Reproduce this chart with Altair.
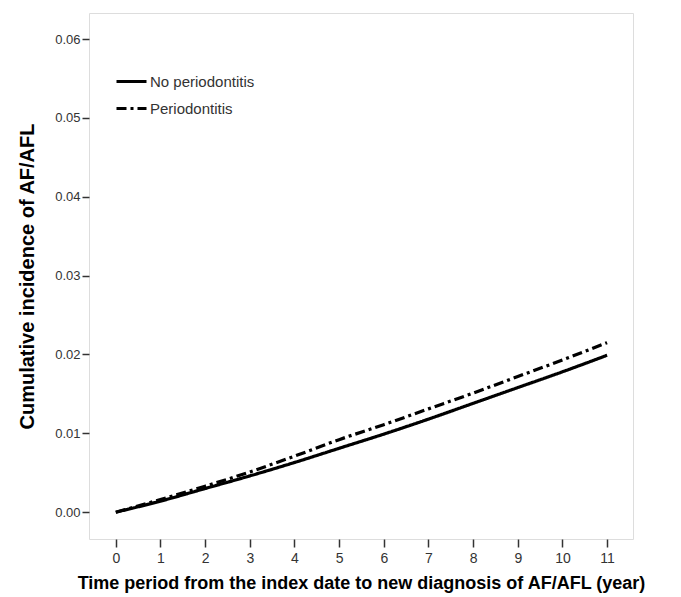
import altair as alt
import pandas as pd

years = [0, 1, 2, 3, 4, 5, 6, 7, 8, 9, 10, 11]
no_perio = [0.0, 0.0014, 0.0030, 0.0046, 0.0063, 0.0081, 0.0099, 0.0118, 0.0138, 0.0158, 0.0178, 0.0199]
perio = [0.0, 0.0016, 0.0033, 0.0051, 0.0071, 0.0092, 0.0111, 0.0131, 0.0151, 0.0172, 0.0193, 0.0215]
groups = ["No periodontitis", "Periodontitis"]
x_ticks = list(range(0, 12))
y_ticks = [0.0, 0.01, 0.02, 0.03, 0.04, 0.05, 0.06]

rows = []
for g, vals in zip(groups, [no_perio, perio]):
    for t, v in zip(years, vals):
        rows.append({"year": t, "inc": v, "group": g})
df = pd.DataFrame(rows)

font = "Liberation Sans"

chart = alt.Chart(df).mark_line(color="black", strokeWidth=3.2, interpolate="monotone").encode(
    x=alt.X("year:Q",
            scale=alt.Scale(domain=[-0.6, 11.58], nice=False, zero=False),
            axis=alt.Axis(values=x_ticks, format="d", grid=False, domain=False,
                          tickColor="#333", tickSize=8, tickWidth=1.5,
                          labelFont=font, labelFontSize=14, labelColor="#333", labelPadding=4,
                          title="Time period from the index date to new diagnosis of AF/AFL (year)",
                          titleFont=font, titleFontSize=18, titleFontWeight="bold",
                          titleColor="black", titlePadding=9)),
    y=alt.Y("inc:Q",
            scale=alt.Scale(domain=[-0.0034, 0.0633], nice=False, zero=False),
            axis=alt.Axis(values=y_ticks, format=".2f", grid=False, domain=False,
                          tickColor="#333", tickSize=7, tickWidth=1.5,
                          labelFont=font, labelFontSize=13, labelColor="#333", labelPadding=2,
                          title="Cumulative incidence of AF/AFL",
                          titleFont=font, titleFontSize=20, titleFontWeight="bold",
                          titleColor="black", titlePadding=17)),
    strokeDash=alt.StrokeDash("group:N",
                              scale=alt.Scale(domain=groups, range=[[1, 0], [10, 4, 3, 4]]),
                              legend=alt.Legend(orient="none", legendX=26, legendY=52, title=None,
                                                symbolType="stroke", symbolSize=900,
                                                symbolStrokeWidth=3, symbolStrokeColor="black",
                                                labelFont=font, labelFontSize=15, labelColor="#333",
                                                labelOffset=2, rowPadding=2)),
).properties(
    width=544, height=526,
    autosize=alt.AutoSizeParams(type="none"),
    padding={"left": 81, "top": 5, "right": 40, "bottom": 60},
).configure_view(
    stroke="#444", strokeWidth=1.5
).configure(background="white")

chart.save("out.html", embed_options={"renderer": "svg", "actions": False})
